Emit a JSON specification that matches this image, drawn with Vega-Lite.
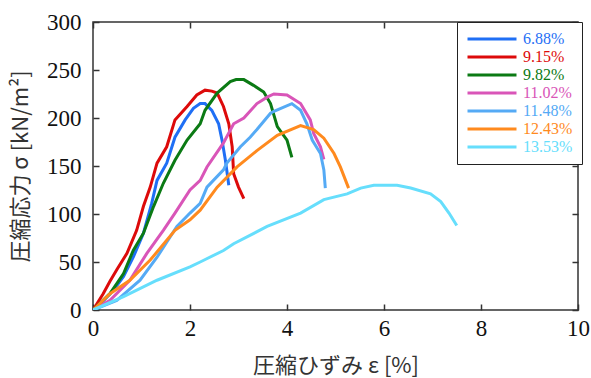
{
  "$schema": "https://vega.github.io/schema/vega-lite/v6.json",
  "width": 485,
  "height": 288,
  "autosize": "none",
  "padding": {"left": 93, "top": 22, "right": 13, "bottom": 68},
  "background": "white",
  "config": {
    "view": {"stroke": "#333", "strokeWidth": 1.5},
    "font": "Liberation Serif"
  },
  "datasets": {
    "d": [
      {"s":"6.88%","x":0,"y":0},{"s":"6.88%","x":0.18,"y":8},{"s":"6.88%","x":0.35,"y":17},{"s":"6.88%","x":0.5,"y":26},{"s":"6.88%","x":0.63,"y":35},{"s":"6.88%","x":0.83,"y":55},{"s":"6.88%","x":1.04,"y":80},{"s":"6.88%","x":1.21,"y":111},{"s":"6.88%","x":1.32,"y":135},{"s":"6.88%","x":1.52,"y":153},{"s":"6.88%","x":1.69,"y":180},{"s":"6.88%","x":1.9,"y":198},{"s":"6.88%","x":2.07,"y":210},{"s":"6.88%","x":2.21,"y":215},{"s":"6.88%","x":2.31,"y":215},{"s":"6.88%","x":2.45,"y":208},{"s":"6.88%","x":2.59,"y":194},{"s":"6.88%","x":2.66,"y":177},{"s":"6.88%","x":2.73,"y":156},{"s":"6.88%","x":2.8,"y":130},
      {"s":"9.15%","x":0,"y":0},{"s":"9.15%","x":0.21,"y":17},{"s":"9.15%","x":0.35,"y":30},{"s":"9.15%","x":0.49,"y":42},{"s":"9.15%","x":0.7,"y":59},{"s":"9.15%","x":0.9,"y":83},{"s":"9.15%","x":1.04,"y":108},{"s":"9.15%","x":1.18,"y":128},{"s":"9.15%","x":1.32,"y":153},{"s":"9.15%","x":1.52,"y":170},{"s":"9.15%","x":1.69,"y":198},{"s":"9.15%","x":1.94,"y":212},{"s":"9.15%","x":2.14,"y":224},{"s":"9.15%","x":2.31,"y":229},{"s":"9.15%","x":2.45,"y":228},{"s":"9.15%","x":2.56,"y":226},{"s":"9.15%","x":2.69,"y":212},{"s":"9.15%","x":2.8,"y":194},{"s":"9.15%","x":2.87,"y":170},{"s":"9.15%","x":2.9,"y":142},{"s":"9.15%","x":3.0,"y":128},{"s":"9.15%","x":3.11,"y":116},
      {"s":"9.82%","x":0,"y":0},{"s":"9.82%","x":0.35,"y":17},{"s":"9.82%","x":0.63,"y":38},{"s":"9.82%","x":0.83,"y":62},{"s":"9.82%","x":1.04,"y":80},{"s":"9.82%","x":1.25,"y":108},{"s":"9.82%","x":1.45,"y":132},{"s":"9.82%","x":1.69,"y":156},{"s":"9.82%","x":1.94,"y":177},{"s":"9.82%","x":2.21,"y":194},{"s":"9.82%","x":2.31,"y":208},{"s":"9.82%","x":2.56,"y":226},{"s":"9.82%","x":2.83,"y":238},{"s":"9.82%","x":2.95,"y":240},{"s":"9.82%","x":3.11,"y":240},{"s":"9.82%","x":3.31,"y":234},{"s":"9.82%","x":3.52,"y":227},{"s":"9.82%","x":3.66,"y":215},{"s":"9.82%","x":3.8,"y":191},{"s":"9.82%","x":4.0,"y":177},{"s":"9.82%","x":4.1,"y":159},
      {"s":"11.02%","x":0,"y":0},{"s":"11.02%","x":0.35,"y":10},{"s":"11.02%","x":0.76,"y":31},{"s":"11.02%","x":1.11,"y":59},{"s":"11.02%","x":1.45,"y":83},{"s":"11.02%","x":1.69,"y":101},{"s":"11.02%","x":2.0,"y":125},{"s":"11.02%","x":2.21,"y":135},{"s":"11.02%","x":2.35,"y":149},{"s":"11.02%","x":2.69,"y":174},{"s":"11.02%","x":2.9,"y":194},{"s":"11.02%","x":3.11,"y":200},{"s":"11.02%","x":3.38,"y":215},{"s":"11.02%","x":3.6,"y":222},{"s":"11.02%","x":3.73,"y":225},{"s":"11.02%","x":4.0,"y":224},{"s":"11.02%","x":4.28,"y":215},{"s":"11.02%","x":4.48,"y":198},{"s":"11.02%","x":4.55,"y":184},{"s":"11.02%","x":4.69,"y":170},{"s":"11.02%","x":4.76,"y":157},
      {"s":"11.48%","x":0,"y":0},{"s":"11.48%","x":0.49,"y":10},{"s":"11.48%","x":0.97,"y":31},{"s":"11.48%","x":1.32,"y":55},{"s":"11.48%","x":1.73,"y":87},{"s":"11.48%","x":2.0,"y":101},{"s":"11.48%","x":2.21,"y":111},{"s":"11.48%","x":2.35,"y":128},{"s":"11.48%","x":2.69,"y":146},{"s":"11.48%","x":2.76,"y":153},{"s":"11.48%","x":3.04,"y":170},{"s":"11.48%","x":3.24,"y":180},{"s":"11.48%","x":3.38,"y":188},{"s":"11.48%","x":3.66,"y":205},{"s":"11.48%","x":3.73,"y":207},{"s":"11.48%","x":4.1,"y":215},{"s":"11.48%","x":4.28,"y":208},{"s":"11.48%","x":4.41,"y":194},{"s":"11.48%","x":4.52,"y":177},{"s":"11.48%","x":4.69,"y":163},{"s":"11.48%","x":4.76,"y":146},{"s":"11.48%","x":4.79,"y":127},
      {"s":"12.43%","x":0,"y":0},{"s":"12.43%","x":0.35,"y":17},{"s":"12.43%","x":0.76,"y":31},{"s":"12.43%","x":1.18,"y":52},{"s":"12.43%","x":1.69,"y":83},{"s":"12.43%","x":2.0,"y":94},{"s":"12.43%","x":2.21,"y":104},{"s":"12.43%","x":2.56,"y":128},{"s":"12.43%","x":2.97,"y":149},{"s":"12.43%","x":3.38,"y":166},{"s":"12.43%","x":3.8,"y":182},{"s":"12.43%","x":4.28,"y":192},{"s":"12.43%","x":4.55,"y":188},{"s":"12.43%","x":4.76,"y":179},{"s":"12.43%","x":4.97,"y":163},{"s":"12.43%","x":5.1,"y":149},{"s":"12.43%","x":5.27,"y":127},
      {"s":"13.53%","x":0,"y":0},{"s":"13.53%","x":0.63,"y":14},{"s":"13.53%","x":1.32,"y":31},{"s":"13.53%","x":2.0,"y":45},{"s":"13.53%","x":2.21,"y":50},{"s":"13.53%","x":2.69,"y":62},{"s":"13.53%","x":2.9,"y":69},{"s":"13.53%","x":3.59,"y":87},{"s":"13.53%","x":4.28,"y":101},{"s":"13.53%","x":4.76,"y":115},{"s":"13.53%","x":5.24,"y":121},{"s":"13.53%","x":5.52,"y":127},{"s":"13.53%","x":5.79,"y":130},{"s":"13.53%","x":6.07,"y":130},{"s":"13.53%","x":6.27,"y":130},{"s":"13.53%","x":6.55,"y":127},{"s":"13.53%","x":6.96,"y":121},{"s":"13.53%","x":7.17,"y":113},{"s":"13.53%","x":7.34,"y":101},{"s":"13.53%","x":7.5,"y":88}
    ]
  },
  "data": {"name": "d"},
  "layer": [
    {
      "mark": {"type": "line", "strokeWidth": 3, "clip": true},
      "encoding": {
        "x": {
          "field": "x", "type": "quantitative",
          "scale": {"domain": [0, 10], "nice": false, "zero": true},
          "axis": {
            "orient": "bottom", "values": [0,2,4,6,8,10], "title": "圧縮ひずみ ε  [%]",
            "grid": false, "domain": false, "tickSize": -6, "tickColor": "#333", "tickWidth": 1.5,
            "labelFont": "Liberation Serif", "labelFontSize": 23, "labelColor": "#111", "labelPadding": 13,
            "labelFlush": false,
            "titleFont": "Noto Sans CJK JP", "titleFontSize": 22, "titleFontWeight": "normal", "titleColor": "#333", "titlePadding": 15
          }
        },
        "y": {
          "field": "y", "type": "quantitative",
          "scale": {"domain": [0, 300], "nice": false},
          "axis": {
            "orient": "left", "values": [0,50,100,150,200,250,300], "title": "圧縮応力 σ [kN/m²]",
            "grid": false, "domain": false, "tickSize": -6, "tickColor": "#333", "tickWidth": 1.5,
            "labelFont": "Liberation Serif", "labelFontSize": 23, "labelColor": "#111", "labelPadding": 18,
            "labelFlush": false,
            "titleFont": "Noto Sans CJK JP", "titleFontSize": 22, "titleFontWeight": "normal", "titleColor": "#333", "titlePadding": 14
          }
        },
        "color": {
          "field": "s", "type": "nominal",
          "scale": {
            "domain": ["6.88%","9.15%","9.82%","11.02%","11.48%","12.43%","13.53%"],
            "range": ["#1f6ff5","#dd0a0a","#0b7a14","#d955b8","#55aaf5","#ff8a1e","#66defc"]
          },
          "legend": {
            "orient": "none", "legendX": 364, "legendY": 0,
            "title": null,
            "symbolType": "M-10,0H10", "symbolSize": 24, "symbolStrokeWidth": 3,
            "symbolOffset": 18, "labelOffset": 23,
            "labelFont": "Liberation Serif", "labelFontSize": 16,
            "rowPadding": 2, "padding": 9,
            "strokeColor": "#222", "fillColor": "white",
            "encode": {"labels": {"update": {"fill": {"scale": "color", "field": "value"}}}}
          }
        }
      }
    },
    {
      "mark": {"type": "line", "opacity": 0},
      "encoding": {
        "x": {
          "field": "x", "type": "quantitative",
          "axis": {"orient": "top", "values": [0,2,4,6,8,10], "title": null, "labels": false, "grid": false, "domain": false, "tickSize": -6, "tickColor": "#333", "tickWidth": 1.5}
        },
        "y": {
          "field": "y", "type": "quantitative",
          "axis": {"orient": "right", "values": [0,50,100,150,200,250,300], "title": null, "labels": false, "grid": false, "domain": false, "tickSize": -6, "tickColor": "#333", "tickWidth": 1.5}
        }
      }
    }
  ],
  "resolve": {"axis": {"x": "independent", "y": "independent"}}
}
